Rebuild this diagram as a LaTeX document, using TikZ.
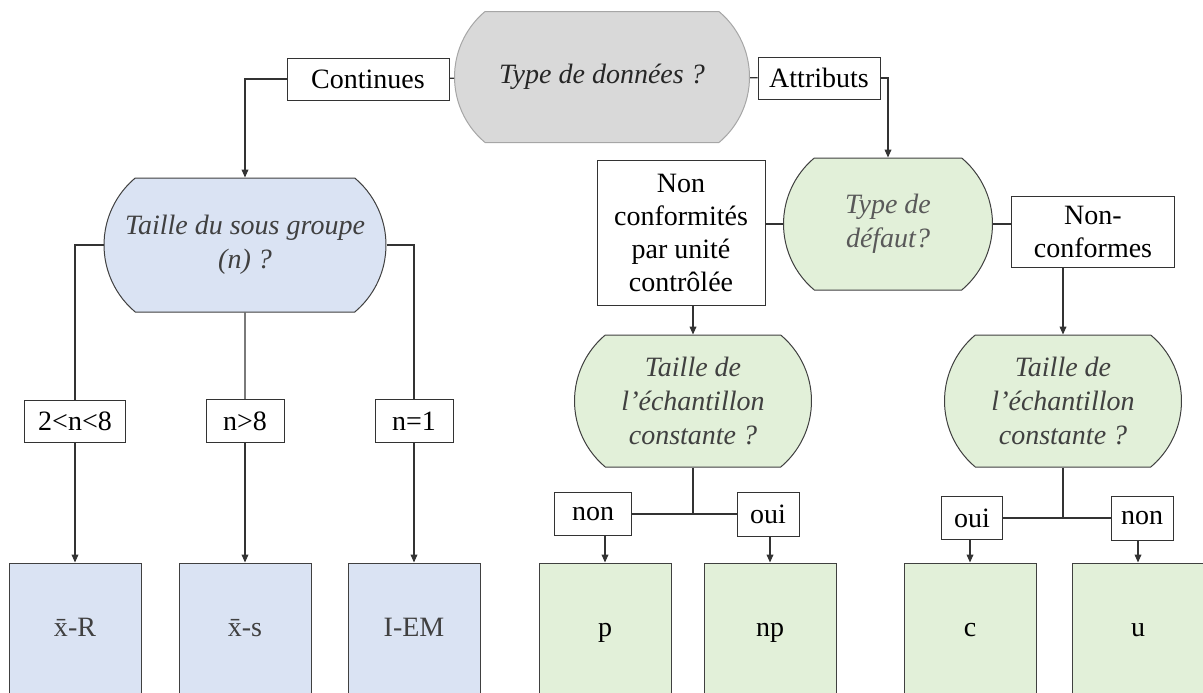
\documentclass[tikz,border=0pt]{standalone}
\usepackage{fontspec}
\setmainfont{Liberation Serif}
\usetikzlibrary{shapes.misc,arrows.meta}
\definecolor{grayfill}{HTML}{D9D9D9}
\definecolor{grayline}{HTML}{A6A6A6}
\definecolor{bluefill}{HTML}{DAE3F3}
\definecolor{greenfill}{HTML}{E2F0D9}

\begin{document}
\begin{tikzpicture}[x=0.5pt,y=-0.5pt,
                every node/.style={font=\fontsize{14}{16.5}\selectfont,inner sep=0pt},
                ask/.style={rounded rectangle,rounded rectangle arc length=100,draw=black!75,line width=0.5pt,align=center,font=\fontsize{14}{16.8}\selectfont\itshape,text=black!75},
                lbl/.style={draw=black!80,fill=white,line width=0.5pt,align=center},
                res/.style={draw=black!75,line width=0.5pt,minimum width=66pt,minimum height=67pt,text height=9.3pt,text depth=3pt},
                link/.style={black!80,line width=0.6pt},
                arr/.style={link,-{Triangle[length=4pt,width=3.4pt]}}]
                \clip (0,0) rectangle (1203,692);
                \node[ask,fill=grayfill,draw=grayline,text=black!85,minimum width=147.5pt,minimum height=65.5pt] (type) at (602,77) {Type de données ?};
                \node[lbl,minimum width=81pt,minimum height=21pt] (cont) at (368,79) {Continues};
                \node[lbl,minimum width=61pt,minimum height=21pt] (attr) at (819,78) {Attributs};
                \node[ask,fill=bluefill,minimum width=141pt,minimum height=67pt] (taille) at (245,245) {Taille du sous groupe\\(n) ?};
                \node[ask,fill=greenfill,text=black!65,minimum width=104.5pt,minimum height=66pt] (defaut) at (888,224) {Type de\\défaut?};
                \node[lbl,minimum width=84pt,minimum height=72.5pt] (ncu) at (681,233) {Non\\conformités\\par unité\\contrôlée};
                \node[lbl,minimum width=81.5pt,minimum height=35.5pt] (ncf) at (1093,232) {Non-\\conformes};
                \node[lbl,minimum width=50.5pt,minimum height=21pt] (qa) at (75,421) {2<n<8};
                \node[lbl,minimum width=39pt,minimum height=21.5pt] (qb) at (245,421) {n>8};
                \node[lbl,minimum width=39pt,minimum height=21.5pt] (qc) at (414,421) {n=1};
                \node[ask,fill=greenfill,minimum width=118.5pt,minimum height=66pt] (echa) at (693,401) {Taille de\\l’échantillon\\constante ?};
                \node[ask,fill=greenfill,minimum width=118.5pt,minimum height=66pt] (echb) at (1063,401) {Taille de\\l’échantillon\\constante ?};
                \node[lbl,minimum width=38.5pt,minimum height=21.5pt] (nona) at (593,514) {non};
                \node[lbl,minimum width=31pt,minimum height=22pt] (ouia) at (768,514) {oui};
                \node[lbl,minimum width=30.5pt,minimum height=21.5pt] (ouib) at (972,518) {oui};
                \node[lbl,minimum width=31pt,minimum height=22pt] (nonb) at (1142,518) {non};
                \node[res,fill=bluefill,text=black!75] (xr) at (75,630) {\={x}-R};
                \node[res,fill=bluefill,text=black!75] (xs) at (245,630) {\={x}-s};
                \node[res,fill=bluefill,text=black!75] (iem) at (414,630) {I-EM};
                \node[res,fill=greenfill] (cp) at (605,630) {p};
                \node[res,fill=greenfill] (cnp) at (770,630) {np};
                \node[res,fill=greenfill] (cc) at (970,630) {c};
                \node[res,fill=greenfill] (cu) at (1138,630) {u};
                \draw[link] (cont) -- (type);
                \draw[link] (type) -- (attr);
                \draw[arr] (cont.west) -| (taille.north);
                \draw[arr] (attr.east) -| (defaut.north);
                \draw[link] (taille.west) -| (qa.north);
                \draw[link] (taille) -- (qb);
                \draw[link] (taille.east) -| (qc.north);
                \draw[arr] (qa) -- (xr);
                \draw[arr] (qb) -- (xs);
                \draw[arr] (qc) -- (iem);
                \draw[link] (ncu.east |- defaut.west) -- (defaut.west);
                \draw[link] (defaut.east) -- (defaut.east -| ncf.west);
                \draw[arr] (echa.north |- ncu.south) -- (echa.north);
                \draw[arr] (echb.north |- ncf.south) -- (echb.north);
                \draw[link] (echa.south) -- (echa.south |- nona.east);
                \draw[link] (nona.east) -- (ouia.west);
                \draw[link] (echb.south) -- (echb.south |- ouib.east);
                \draw[link] (ouib.east) -- (nonb.west);
                \draw[arr] (cp.north |- nona.south) -- (cp.north);
                \draw[arr] (cnp.north |- ouia.south) -- (cnp.north);
                \draw[arr] (cc.north |- ouib.south) -- (cc.north);
                \draw[arr] (cu.north |- nonb.south) -- (cu.north);
\end{tikzpicture}
\end{document}
